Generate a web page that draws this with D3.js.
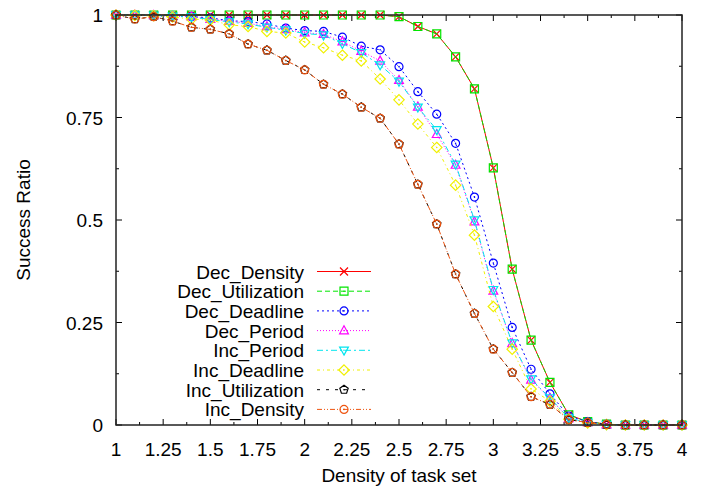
<!DOCTYPE html>
<html><head><meta charset="utf-8">
<script src="https://cdn.jsdelivr.net/npm/d3@7"></script>
<style>
html,body{margin:0;padding:0;background:#fff;}
text{font-family:"Liberation Sans",Arial,Helvetica,sans-serif;}
</style></head>
<body><svg id="chart" width="705" height="489"></svg>
<script>
const densities = [1.0,1.1,1.2,1.3,1.4,1.5,1.6,1.7,1.8,1.9,2.0,2.1,2.2,2.3,2.4,2.5,2.6,2.7,2.8,2.9,3.0,3.1,3.2,3.3,3.4,3.5,3.6,3.7,3.8,3.9,4.0];
const seriesNames = ["Dec_Density","Dec_Utilization","Dec_Deadline","Dec_Period","Inc_Period","Inc_Deadline","Inc_Utilization","Inc_Density"];
const decDensity     = [1,1,1,1,1,1,1,1,1,1,1,1,1,1,1,0.996,0.972,0.954,0.898,0.82,0.627,0.38,0.207,0.104,0.025,0.008,0.002,0,0,0,0];
const decUtilization = [1,1,1,1,1,1,1,1,1,1,1,1,1,1,1,0.996,0.972,0.954,0.898,0.82,0.627,0.38,0.207,0.104,0.025,0.008,0.002,0,0,0,0];
const decDeadline    = [1,1,0.998,0.997,0.996,0.993,0.986,0.984,0.978,0.968,0.962,0.96,0.946,0.924,0.915,0.874,0.813,0.758,0.687,0.556,0.395,0.238,0.136,0.076,0.022,0.008,0.002,0,0,0,0];
const decPeriod      = [1,1,0.999,0.997,0.996,0.99,0.985,0.98,0.972,0.965,0.957,0.953,0.935,0.912,0.888,0.841,0.776,0.709,0.634,0.496,0.327,0.199,0.11,0.065,0.016,0.006,0.001,0,0,0,0];
const incPeriod      = [1,1,0.999,0.997,0.995,0.989,0.983,0.978,0.97,0.963,0.955,0.951,0.93,0.908,0.878,0.838,0.775,0.72,0.636,0.5,0.33,0.2,0.112,0.066,0.017,0.006,0.001,0,0,0,0];
const incDeadline    = [1,0.999,0.998,0.995,0.99,0.988,0.976,0.972,0.96,0.956,0.934,0.92,0.902,0.888,0.844,0.793,0.734,0.677,0.585,0.463,0.289,0.185,0.088,0.058,0.014,0.005,0.001,0,0,0,0];
const incUtilization = [1,0.99,0.996,0.985,0.97,0.965,0.954,0.929,0.914,0.889,0.866,0.831,0.807,0.775,0.748,0.685,0.587,0.49,0.368,0.272,0.185,0.128,0.069,0.05,0.013,0.006,0.001,0,0,0,0];
const incDensity     = [1,0.99,0.996,0.985,0.97,0.965,0.954,0.929,0.914,0.889,0.866,0.831,0.807,0.775,0.748,0.685,0.587,0.49,0.368,0.272,0.185,0.128,0.069,0.05,0.013,0.006,0.001,0,0,0,0];
const xTicks = [1,1.25,1.5,1.75,2,2.25,2.5,2.75,3,3.25,3.5,3.75,4];
const xTickLabels = ["1","1.25","1.5","1.75","2","2.25","2.5","2.75","3","3.25","3.5","3.75","4"];
const yTicks = [0,0.25,0.5,0.75,1];
const yTickLabels = ["0","0.25","0.5","0.75","1"];
const xTitle = "Density of task set";
const yTitle = "Success Ratio";

const seriesValues = [decDensity,decUtilization,decDeadline,decPeriod,incPeriod,incDeadline,incUtilization,incDensity];
const colors = ["#ff0000","#00e600","#0000ff","#ff00ff","#00e5ee","#f0f000","#000000","#ee5511"];
const dashes = [null,"5,3","2,3","1,2","6,3,2,3","3,3,1,3","3,6","5,2,1,2,1,2"];
const markers = ["cross","box","circle","tri","itri","diamond","pent","circle"];

const W=705,H=489, L=116, R=682, T=15, B=425;
const svg = d3.select("#chart");
const x = d3.scaleLinear().domain([1,4]).range([L,R]);
const y = d3.scaleLinear().domain([0,1]).range([B,T]);

// ticks (all four sides, inward)
const minorX = d3.range(1.125,4,0.25), minorY = d3.range(0.125,1,0.25);
const tg = svg.append("g").attr("stroke","#000").attr("stroke-width",1);
xTicks.forEach(v=>{tg.append("line").attr("x1",x(v)).attr("x2",x(v)).attr("y1",B).attr("y2",B-6);
  tg.append("line").attr("x1",x(v)).attr("x2",x(v)).attr("y1",T).attr("y2",T+6);});
minorX.forEach(v=>{tg.append("line").attr("x1",x(v)).attr("x2",x(v)).attr("y1",B).attr("y2",B-3);
  tg.append("line").attr("x1",x(v)).attr("x2",x(v)).attr("y1",T).attr("y2",T+3);});
yTicks.forEach(v=>{tg.append("line").attr("x1",L).attr("x2",L+6).attr("y1",y(v)).attr("y2",y(v));
  tg.append("line").attr("x1",R).attr("x2",R-6).attr("y1",y(v)).attr("y2",y(v));});
minorY.forEach(v=>{tg.append("line").attr("x1",L).attr("x2",L+3).attr("y1",y(v)).attr("y2",y(v));
  tg.append("line").attr("x1",R).attr("x2",R-3).attr("y1",y(v)).attr("y2",y(v));});

// tick labels
xTicks.forEach((v,i)=>svg.append("text").attr("x",x(v)).attr("y",456).attr("text-anchor","middle")
  .attr("font-size",19).attr("fill","#000").text(xTickLabels[i]));
yTicks.forEach((v,i)=>svg.append("text").attr("x",103).attr("y",y(v)+7).attr("text-anchor","end")
  .attr("font-size",19).attr("fill","#000").text(yTickLabels[i]));
svg.append("text").attr("x",x(2.5)).attr("y",482).attr("text-anchor","middle").attr("font-size",19).text(xTitle);
svg.append("text").attr("transform",`translate(30,${y(0.5)}) rotate(-90)`).attr("text-anchor","middle").attr("font-size",19).text(yTitle);

function markerPath(type){
  const s=4;
  switch(type){
    case "cross": return `M${-s},${-s}L${s},${s}M${-s},${s}L${s},${-s}`;
    case "box": return `M${-s},${-s}H${s}V${s}H${-s}Z`;
    case "circle": return d3.arc()({innerRadius:0,outerRadius:s,startAngle:0,endAngle:2*Math.PI});
    case "tri": return `M0,${-s*1.2}L${s*1.1},${s*0.8}L${-s*1.1},${s*0.8}Z`;
    case "itri": return `M0,${s*1.2}L${s*1.1},${-s*0.8}L${-s*1.1},${-s*0.8}Z`;
    case "diamond": return `M0,${-s*1.3}L${s*1.3},0L0,${s*1.3}L${-s*1.3},0Z`;
    case "pent": { const p=d3.range(5).map(k=>{const a=-Math.PI/2+k*2*Math.PI/5;return [s*1.1*Math.cos(a),s*1.1*Math.sin(a)];});
      return "M"+p.map(q=>q.join(",")).join("L")+"Z"; }
  }
}
function drawMarker(g,type,color,cx,cy){
  g.append("path").attr("d",markerPath(type)).attr("transform",`translate(${cx},${cy})`)
    .attr("fill","none").attr("stroke",color).attr("stroke-width",1.2);
  if(type!=="cross") g.append("circle").attr("cx",cx).attr("cy",cy).attr("r",0.8).attr("fill",color);
}

const line = d3.line().x((d,i)=>x(densities[i])).y(d=>y(d));
seriesValues.forEach((vals,si)=>{
  const g = svg.append("g");
  g.append("path").datum(vals).attr("d",line).attr("fill","none").attr("stroke",colors[si])
    .attr("stroke-width",1).attr("stroke-dasharray",dashes[si]);
  vals.forEach((v,i)=>drawMarker(g,markers[si],colors[si],x(densities[i]),y(v)));
});

// legend
seriesNames.forEach((n,i)=>{
  const ly = 271.5 + i*19.7;
  svg.append("text").attr("x",304).attr("y",ly+7).attr("text-anchor","end").attr("font-size",19).text(n);
  const g = svg.append("g");
  g.append("line").attr("x1",317).attr("x2",371).attr("y1",ly).attr("y2",ly).attr("stroke",colors[i])
    .attr("stroke-width",1).attr("stroke-dasharray",dashes[i]);
  drawMarker(g,markers[i],colors[i],344,ly);
});

// frame
svg.append("rect").attr("x",L).attr("y",T).attr("width",R-L).attr("height",B-T)
  .attr("fill","none").attr("stroke","#222").attr("stroke-width",1.5);
</script></body></html>
